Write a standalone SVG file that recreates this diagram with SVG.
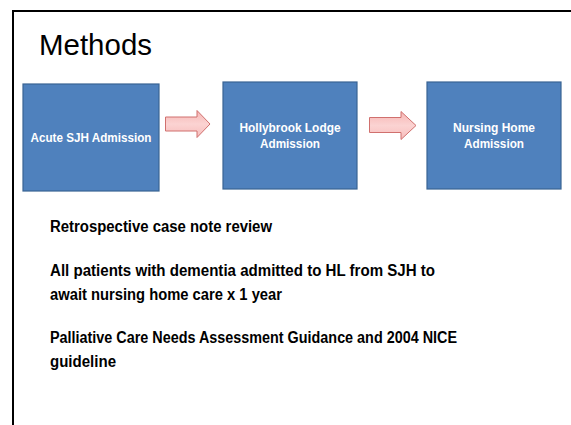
<svg xmlns="http://www.w3.org/2000/svg" width="571" height="425" viewBox="0 0 571 425">
  <defs>
    <linearGradient id="arrowFill" x1="0" y1="0" x2="0" y2="1">
      <stop offset="0" stop-color="#f6b6b4"/>
      <stop offset="0.5" stop-color="#fbd3d2"/>
      <stop offset="1" stop-color="#f7bdbc"/>
    </linearGradient>
  </defs>
  <style>
    .frame { fill: none; stroke: #000; stroke-width: 2; }
    .box { fill: #4f81bd; stroke: #3a6493; stroke-width: 1.2; }
    .arrow { fill: url(#arrowFill); stroke: #d0706e; stroke-width: 1; }
    .lbl { font-family: "Liberation Sans", Arial, sans-serif; font-weight: bold; font-size: 12.5px; fill: #fff; text-anchor: middle; }
    .title { font-family: "Liberation Sans", Arial, sans-serif; font-size: 29px; fill: #000; }
    .body { font-family: "Liberation Sans", Arial, sans-serif; font-weight: bold; font-size: 16px; fill: #000; }
  </style>

  <rect width="571" height="425" fill="#fff"/>

  <!-- slide frame: top and left edges -->
  <path class="frame" d="M13,425 V11 H571"/>

  <text class="title" x="39" y="55" textLength="113" lengthAdjust="spacingAndGlyphs">Methods</text>

  <!-- process steps -->
  <g id="acute-sjh">
    <rect class="box" x="23" y="84" width="136" height="107"/>
    <text class="lbl" x="91" y="141.5" textLength="121" lengthAdjust="spacingAndGlyphs">Acute SJH Admission</text>
  </g>
  <g id="hollybrook">
    <rect class="box" x="223" y="82" width="134" height="107"/>
    <text class="lbl" x="290" y="132" textLength="101" lengthAdjust="spacingAndGlyphs">Hollybrook Lodge</text>
    <text class="lbl" x="290" y="148" textLength="60" lengthAdjust="spacingAndGlyphs">Admission</text>
  </g>
  <g id="nursing-home">
    <rect class="box" x="427" y="82" width="134" height="107"/>
    <text class="lbl" x="494" y="132" textLength="82" lengthAdjust="spacingAndGlyphs">Nursing Home</text>
    <text class="lbl" x="494" y="148" textLength="60" lengthAdjust="spacingAndGlyphs">Admission</text>
  </g>

  <!-- block arrows between steps -->
  <g id="connectors">
    <path class="arrow" d="M165.5,117 H197 V110.5 L210,124 L197,137.5 V131 H165.5 Z"/>
    <path class="arrow" d="M369.5,117.5 H401 V111.5 L416,125.5 L401,139.5 V132.5 H369.5 Z"/>
  </g>

  <!-- method notes -->
  <text class="body" x="50" y="232" textLength="222" lengthAdjust="spacingAndGlyphs">Retrospective case note review</text>
  <text class="body" x="50" y="276" textLength="385" lengthAdjust="spacingAndGlyphs">All patients with dementia admitted to HL from SJH to</text>
  <text class="body" x="50" y="300" textLength="232" lengthAdjust="spacingAndGlyphs">await nursing home care x 1 year</text>
  <text class="body" x="50" y="343" textLength="407" lengthAdjust="spacingAndGlyphs">Palliative Care Needs Assessment Guidance and 2004 NICE</text>
  <text class="body" x="50" y="367" textLength="66" lengthAdjust="spacingAndGlyphs">guideline</text>
</svg>
